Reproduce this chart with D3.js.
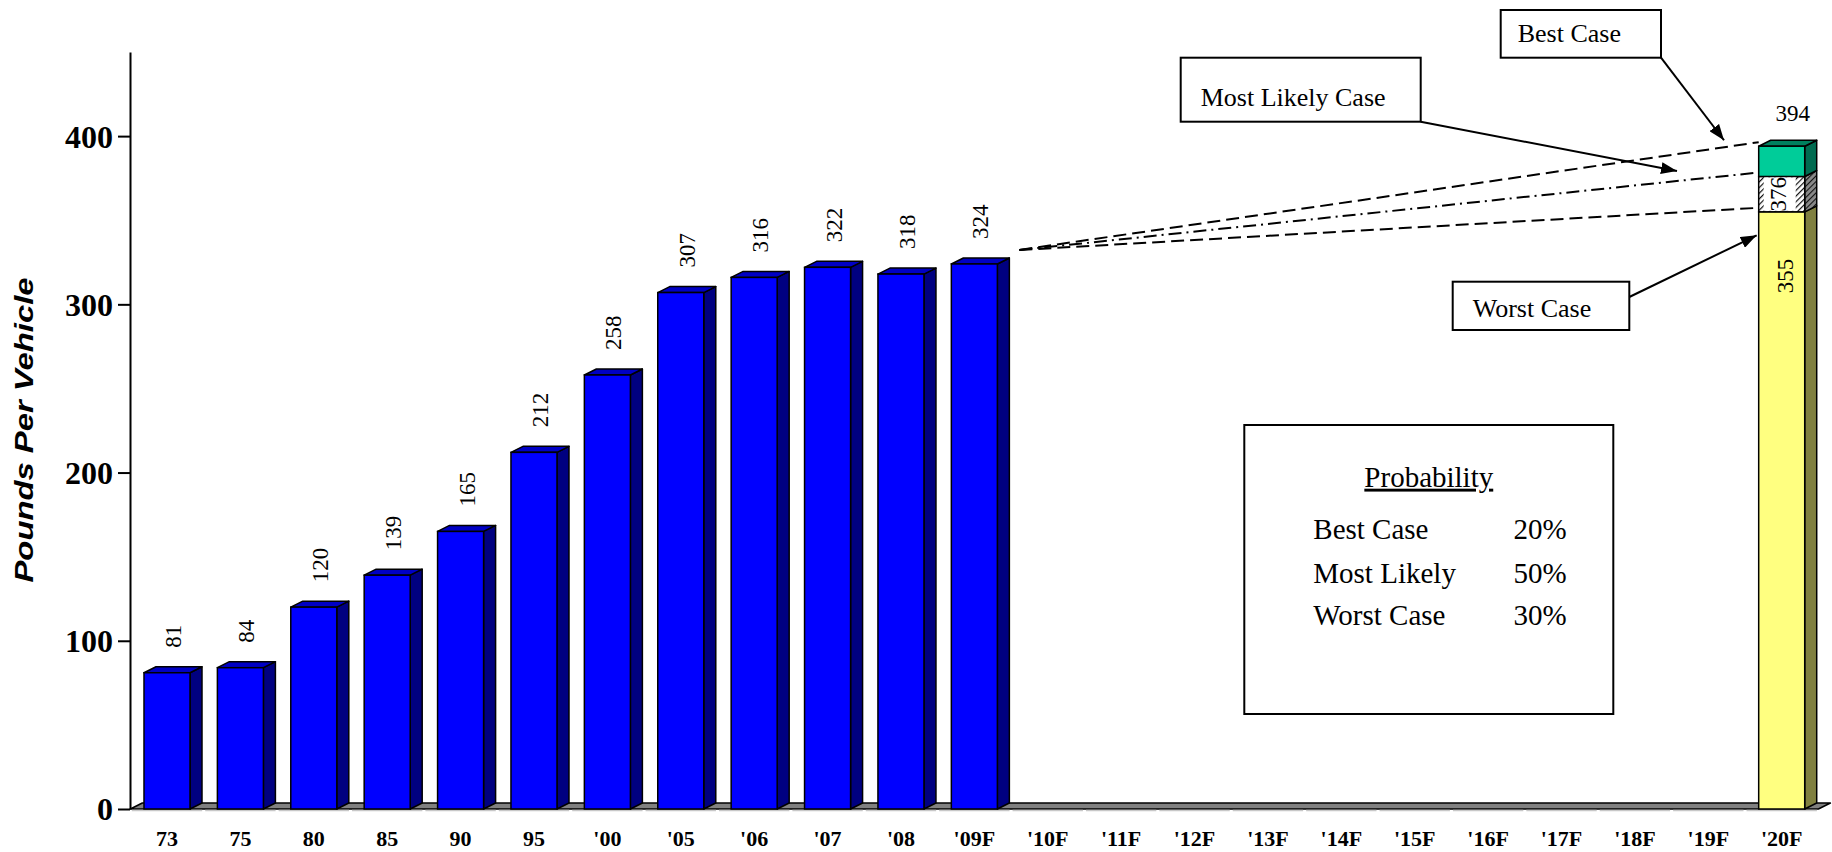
<!DOCTYPE html>
<html>
<head>
<meta charset="utf-8">
<script src="https://cdn.jsdelivr.net/npm/d3@7"></script>
<style>
  body { margin: 0; background: #fff; }
  svg { display: block; }
</style>
</head>
<body>
<svg id="chart" width="1832" height="852"></svg>
<script>
// ---- data ----
const categories = ["73", "75", "80", "85", "90", "95", "'00", "'05", "'06", "'07", "'08", "'09F",
  "'10F", "'11F", "'12F", "'13F", "'14F", "'15F", "'16F", "'17F", "'18F", "'19F", "'20F"];
const historyCategories = ["73", "75", "80", "85", "90", "95", "'00", "'05", "'06", "'07", "'08", "'09F"];
const historyValues = [81, 84, 120, 139, 165, 212, 258, 307, 316, 322, 318, 324];
const forecastCategory = "'20F";
const scenarioNames = ["Worst Case", "Most Likely", "Best Case"];
const scenarioTotals = [355, 376, 394];
const probabilityNames = ["Best Case", "Most Likely", "Worst Case"];
const probabilityValues = ["20%", "50%", "30%"];
const yTicks = [0, 100, 200, 300, 400];

// ---- layout ----
const svg = d3.select("#chart");
const serif = "'Liberation Serif', 'Times New Roman', serif";
const sans = "'Liberation Sans', Arial, sans-serif";
const depthX = 12, depthY = 6;

const x = d3.scaleBand().domain(categories).range([130.3, 1818.4])
  .paddingInner(0.373).paddingOuter(0.1865);
const y = d3.scaleLinear().domain([0, 450]).range([809, 52]);
const bw = x.bandwidth();

// patterns for the "most likely" slice
const defs = svg.append("defs");
const hatchFront = defs.append("pattern").attr("id", "hatchFront")
  .attr("patternUnits", "userSpaceOnUse").attr("width", 4).attr("height", 4)
  .attr("patternTransform", "rotate(45)");
hatchFront.append("rect").attr("width", 4).attr("height", 4).attr("fill", "#fff");
hatchFront.append("line").attr("x1", 0).attr("y1", 0).attr("x2", 0).attr("y2", 4)
  .attr("stroke", "#111").attr("stroke-width", 2.4);
const hatchSide = defs.append("pattern").attr("id", "hatchSide")
  .attr("patternUnits", "userSpaceOnUse").attr("width", 4).attr("height", 4)
  .attr("patternTransform", "rotate(45)");
hatchSide.append("rect").attr("width", 4).attr("height", 4).attr("fill", "#8a8a8a");
hatchSide.append("line").attr("x1", 0).attr("y1", 0).attr("x2", 0).attr("y2", 4)
  .attr("stroke", "#111").attr("stroke-width", 2.2);

defs.append("marker").attr("id", "arrow")
  .attr("viewBox", "0 0 16 12").attr("refX", 16).attr("refY", 6)
  .attr("markerWidth", 16).attr("markerHeight", 12)
  .attr("markerUnits", "userSpaceOnUse").attr("orient", "auto")
  .append("path").attr("d", "M0,0 L16,6 L0,12 Z").attr("fill", "#000");

// ---- floor ----
const x0 = x.range()[0], x1 = x.range()[1];
svg.append("polygon")
  .attr("points", [[x0, y(0)], [x0 + depthX, y(0) - depthY], [x1 + depthX, y(0) - depthY], [x1, y(0)]].join(" "))
  .attr("fill", "#808080").attr("stroke", "#000").attr("stroke-width", 1.5)
  .attr("stroke-linejoin", "round");
// pale category dividers along the floor edge
svg.append("g").selectAll("line").data(categories).join("line")
  .attr("x1", d => x(d) - x.step() * x.paddingInner() / 2 + 1.5)
  .attr("x2", d => x(d) + bw + x.step() * x.paddingInner() / 2 - 1.5)
  .attr("y1", y(0) + 1.5).attr("y2", y(0) + 1.5)
  .attr("stroke", "#c8c8c8").attr("stroke-width", 1.5);

// ---- 3D block helper ----
function block(g, left, v0, v1, front, side, top, showTop) {
  const yt = y(v1), yb = y(v0);
  g.append("polygon")
    .attr("points", [[left + bw, yt], [left + bw + depthX, yt - depthY], [left + bw + depthX, yb - depthY], [left + bw, yb]].join(" "))
    .attr("fill", side).attr("stroke", "#000").attr("stroke-width", 1.5).attr("stroke-linejoin", "round");
  if (showTop) {
    g.append("polygon")
      .attr("points", [[left, yt], [left + depthX, yt - depthY], [left + bw + depthX, yt - depthY], [left + bw, yt]].join(" "))
      .attr("fill", top).attr("stroke", "#000").attr("stroke-width", 1.5).attr("stroke-linejoin", "round");
  }
  g.append("rect").attr("x", left).attr("y", yt).attr("width", bw).attr("height", yb - yt)
    .attr("fill", front).attr("stroke", "#000").attr("stroke-width", 1.5);
}

// ---- history bars ----
const barsG = svg.append("g");
historyCategories.forEach((c, i) => {
  block(barsG.append("g"), x(c), 0, historyValues[i], "#0000ff", "#000080", "#0000c4", true);
});

// value labels above bars
svg.append("g").selectAll("text").data(historyCategories).join("text")
  .attr("transform", (c, i) => `translate(${x(c) + bw / 2 + 6},${y(historyValues[i]) - 25}) rotate(-90)`)
  .attr("dy", "0.35em")
  .attr("font-family", serif).attr("font-size", 23).attr("fill", "#000")
  .text((c, i) => historyValues[i]);

// ---- 2020 scenario stack ----
const fx = x(forecastCategory);
const stackG = svg.append("g");
const segFills = [
  ["#ffff80", "#808040", "#c0c060"],
  ["url(#hatchFront)", "url(#hatchSide)", "#666"],
  ["#00cc99", "#006b50", "#00805f"]
];
scenarioTotals.forEach((v, i) => {
  const base = i === 0 ? 0 : scenarioTotals[i - 1];
  block(stackG.append("g"), fx, base, v, segFills[i][0], segFills[i][1], segFills[i][2], i === scenarioTotals.length - 1);
});

// labels on the stack
const midY = (y(scenarioTotals[0]) + y(scenarioTotals[1])) / 2;
stackG.append("rect")
  .attr("x", fx + 5).attr("y", y(scenarioTotals[1]) + 1)
  .attr("width", 32).attr("height", y(scenarioTotals[0]) - y(scenarioTotals[1]) - 2)
  .attr("fill", "#fff");
stackG.append("text")
  .attr("transform", `translate(${fx + 19},${midY}) rotate(-90)`)
  .attr("dy", "0.35em").attr("text-anchor", "middle")
  .attr("font-family", serif).attr("font-size", 23).text(scenarioTotals[1]);
stackG.append("text")
  .attr("transform", `translate(${fx + bw / 2 + 3},${y(scenarioTotals[0]) + 47}) rotate(-90)`)
  .attr("dy", "0.35em").attr("text-anchor", "end")
  .attr("font-family", serif).attr("font-size", 23).text(scenarioTotals[0]);
stackG.append("text")
  .attr("x", fx + bw / 2 + 11).attr("y", y(scenarioTotals[2]) - depthY - 19)
  .attr("text-anchor", "middle")
  .attr("font-family", serif).attr("font-size", 23).text(scenarioTotals[2]);

// ---- projection lines from 2009 to each scenario ----
const lastCat = historyCategories[historyCategories.length - 1];
const start = [x(lastCat) + bw + depthX + 10, y(historyValues[historyValues.length - 1]) - depthY - 8];
const lineEnds = scenarioTotals.map(v => [fx, y(v) - 4]);
const dashes = ["13,6", "13,5,2,5", "13,6"];
const projG = svg.append("g");
lineEnds.forEach((e, i) => {
  projG.append("line")
    .attr("x1", start[0]).attr("y1", start[1]).attr("x2", e[0]).attr("y2", e[1])
    .attr("stroke", "#000").attr("stroke-width", 2).attr("stroke-dasharray", dashes[i]);
});
function lineYAt(i, px) {
  const e = lineEnds[i];
  return start[1] + (e[1] - start[1]) * (px - start[0]) / (e[0] - start[0]);
}

// ---- axes ----
const yAxis = svg.append("g").attr("transform", `translate(${x0 - 0.3},0)`)
  .call(d3.axisLeft(y).tickValues(yTicks).tickSize(12).tickSizeOuter(0).tickPadding(5));
yAxis.select(".domain").attr("stroke-width", 2);
yAxis.selectAll(".tick line").attr("stroke-width", 2);
yAxis.selectAll(".tick text").attr("font-family", serif).attr("font-size", 32)
  .attr("font-weight", "bold").attr("dy", "0.34em").attr("fill", "#000");

const xAxis = svg.append("g").attr("transform", `translate(0,${y(0)})`)
  .call(d3.axisBottom(x).tickSize(0).tickPadding(21));
xAxis.select(".domain").remove();
xAxis.selectAll(".tick text").attr("font-family", serif).attr("font-size", 22)
  .attr("font-weight", "bold").attr("fill", "#000");

svg.append("text")
  .attr("transform", `translate(24,430) rotate(-90)`)
  .attr("dy", "0.36em").attr("text-anchor", "middle")
  .attr("font-family", sans).attr("font-size", 26).attr("font-weight", "bold")
  .attr("font-style", "italic")
  .attr("textLength", 305).attr("lengthAdjust", "spacingAndGlyphs")
  .text("Pounds Per Vehicle");

// ---- callouts ----
const callG = svg.append("g");
function callout(bx, by, bw2, bh, label, tx, ty) {
  callG.append("rect").attr("x", bx).attr("y", by).attr("width", bw2).attr("height", bh)
    .attr("fill", "#fff").attr("stroke", "#000").attr("stroke-width", 2);
  callG.append("text").attr("x", tx).attr("y", ty)
    .attr("font-family", serif).attr("font-size", 26).text(label);
}
function arrow(ax, ay, bx, by) {
  callG.append("line").attr("x1", ax).attr("y1", ay).attr("x2", bx).attr("y2", by)
    .attr("stroke", "#000").attr("stroke-width", 2).attr("marker-end", "url(#arrow)");
}
callout(1500.7, 10, 160.3, 47.7, "Best Case", 1517.7, 41.7);
arrow(1661, 57.7, 1724, lineYAt(2, 1724) - 7);
callout(1180.7, 57.7, 240, 64, "Most Likely Case", 1200.7, 106);
arrow(1420.7, 121.7, 1677, lineYAt(1, 1677) - 10);
callout(1452.7, 281.7, 176.6, 48.3, "Worst Case", 1472.7, 316.7);
arrow(1629.3, 297, fx - 2, y(341));

// ---- probability panel ----
const probG = svg.append("g");
probG.append("rect").attr("x", 1244.3).attr("y", 425).attr("width", 369).attr("height", 289)
  .attr("fill", "#fff").attr("stroke", "#000").attr("stroke-width", 2);
probG.append("text").attr("x", 1428.8).attr("y", 486.7).attr("text-anchor", "middle")
  .attr("font-family", serif).attr("font-size", 29).attr("text-decoration", "underline")
  .text("Probability");
const rowY = [539, 583.3, 625];
probabilityNames.forEach((n, i) => {
  probG.append("text").attr("x", 1313.3).attr("y", rowY[i])
    .attr("font-family", serif).attr("font-size", 29).text(n);
  probG.append("text").attr("x", 1513.5).attr("y", rowY[i])
    .attr("font-family", serif).attr("font-size", 29).text(probabilityValues[i]);
});
</script>
</body>
</html>
